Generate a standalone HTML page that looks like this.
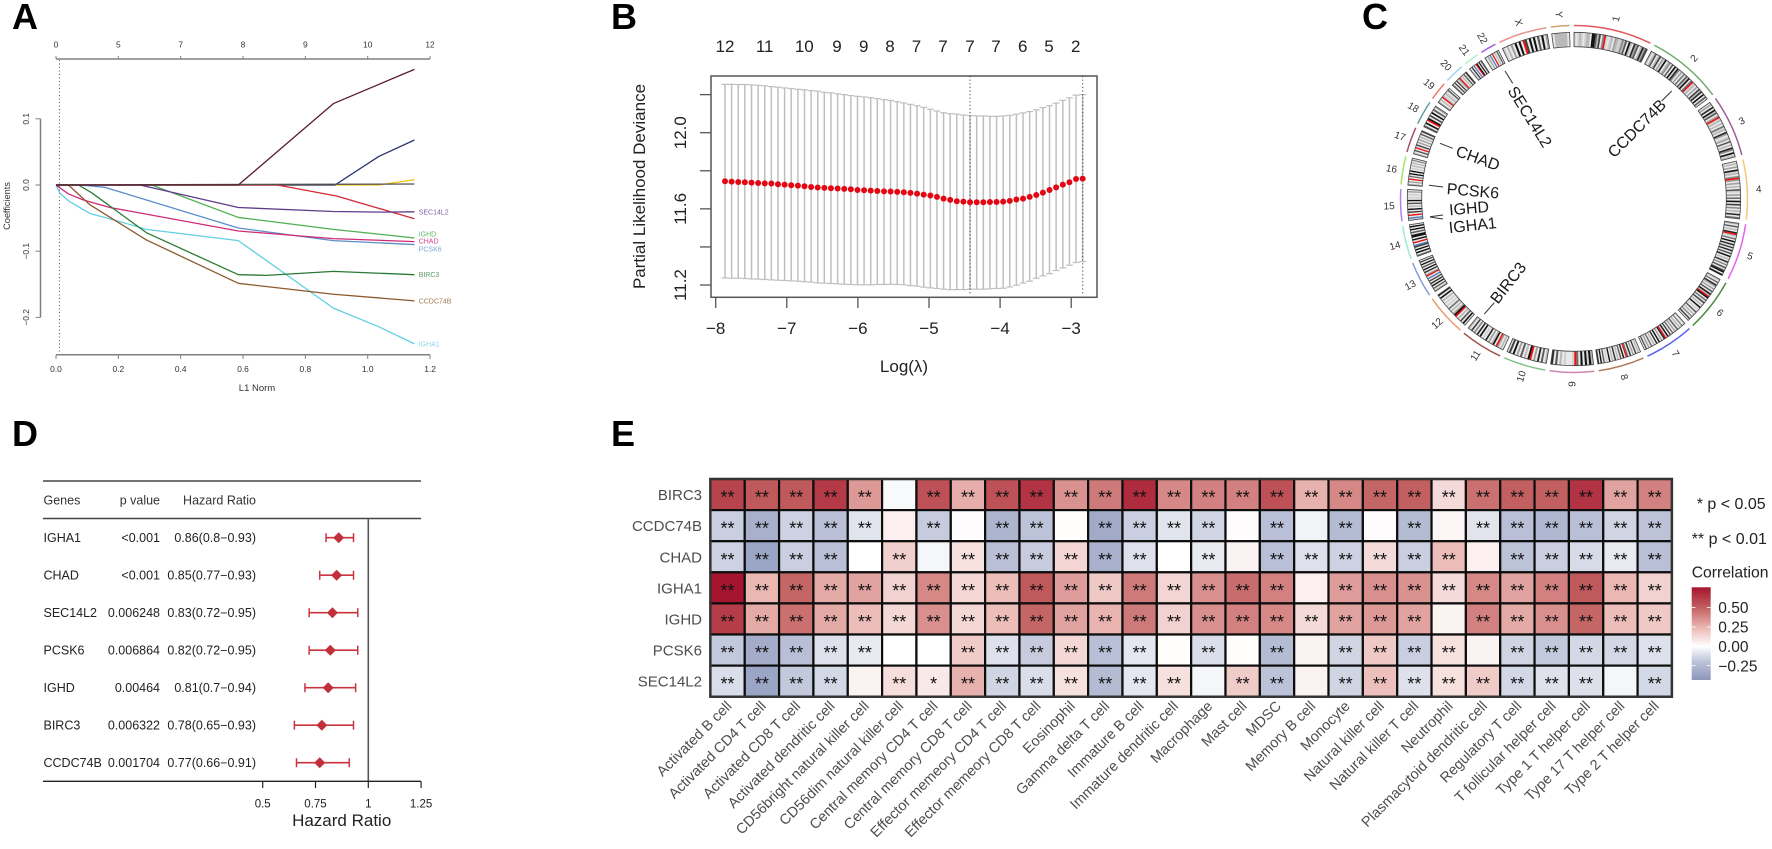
<!DOCTYPE html>
<html lang="en">
<head>
<meta charset="utf-8">
<title>Prognostic gene signature figure</title>
<style>
html,body{margin:0;padding:0;background:#fff;}
svg{display:block;font-family:"Liberation Sans",Arial,sans-serif;}
</style>
</head>
<body>
<svg id="figure" width="1772" height="849" viewBox="0 0 1772 849" xmlns="http://www.w3.org/2000/svg">
<rect x="0" y="0" width="1772" height="849" fill="#ffffff"/>
<g id="panelA"></g>
<g id="panelB"></g>
<g id="panelC"></g>
<g id="panelD"></g>
<g id="panelE"></g>
</svg>
<script>
/* ---------- Panel A data ---------- */
const l1Ticks = [0, 0.2, 0.4, 0.6, 0.8, 1.0, 1.2];
const dfTopTicks = [0, 5, 7, 8, 9, 10, 12];
const coefTicks = [0.1, 0.0, -0.1, -0.2];
const coefGenes = ['SEC14L2', 'IGHD', 'CHAD', 'PCSK6', 'BIRC3', 'CCDC74B', 'IGHA1'];
const maroonL1 = [0, 0.585, 0.89, 1.15];
const maroonCoef = [0, 0, 0.123, 0.1747];
const navyL1 = [0, 0.895, 1.035, 1.15];
const navyCoef = [0, 0, 0.043, 0.068];
const yellowL1 = [0, 1.035, 1.15];
const yellowCoef = [0, 0, 0.008];
const redL1 = [0, 0.71, 0.90, 1.15];
const redCoef = [0, 0, -0.0166, -0.051];
const sec14l2L1 = [0, 0.27, 0.585, 0.89, 1.05, 1.15];
const sec14l2Coef = [0, 0, -0.034, -0.040, -0.041, -0.0405];
const ighdL1 = [0, 0.307, 0.585, 0.89, 1.15];
const ighdCoef = [0, 0, -0.049, -0.067, -0.080];
const pcsk6L1 = [0, 0.077, 0.157, 0.585, 0.89, 1.15];
const pcsk6Coef = [0, 0, -0.0035, -0.065, -0.084, -0.090];
const chadL1 = [0, 0.04, 0.088, 0.173, 0.585, 0.89, 1.15];
const chadCoef = [0, -0.0135, -0.0227, -0.034, -0.0695, -0.081, -0.0855];
const igha1L1 = [0, 0.013, 0.04, 0.109, 0.195, 0.29, 0.585, 0.89, 1.035, 1.15];
const igha1Coef = [0, -0.0126, -0.024, -0.043, -0.054, -0.067, -0.084, -0.186, -0.214, -0.240];
const birc3L1 = [0, 0.072, 0.114, 0.29, 0.585, 0.676, 0.89, 1.15];
const birc3Coef = [0, 0, -0.0116, -0.072, -0.1355, -0.1365, -0.1305, -0.1355];
const ccdc74bL1 = [0, 0.04, 0.109, 0.29, 0.585, 0.89, 1.15];
const ccdc74bCoef = [0, 0, -0.030, -0.083, -0.1485, -0.165, -0.175];
const baselineL1 = [0, 1.15];
const baselineCoef = [0, 0.0015];
const lassoLambdaMarker = 0.011;

/* ---------- Panel B data ---------- */
const logLambda = [-7.869,-7.776,-7.683,-7.590,-7.496,-7.403,-7.310,-7.217,-7.124,-7.031,
-6.938,-6.844,-6.751,-6.658,-6.565,-6.472,-6.379,-6.285,-6.192,-6.099,
-6.006,-5.913,-5.820,-5.727,-5.633,-5.540,-5.447,-5.354,-5.261,-5.168,
-5.075,-4.981,-4.888,-4.795,-4.702,-4.609,-4.516,-4.423,-4.329,-4.236,
-4.143,-4.050,-3.957,-3.864,-3.771,-3.677,-3.584,-3.491,-3.398,-3.305,
-3.212,-3.118,-3.025,-2.932,-2.839];
const cvMean = [11.745,11.743,11.741,11.740,11.738,11.736,11.734,11.733,11.729,11.727,
11.724,11.722,11.719,11.715,11.712,11.710,11.708,11.707,11.705,11.703,
11.699,11.698,11.696,11.694,11.692,11.691,11.689,11.687,11.684,11.680,
11.675,11.670,11.663,11.654,11.647,11.640,11.638,11.635,11.635,11.635,
11.636,11.636,11.638,11.642,11.649,11.654,11.663,11.673,11.685,11.699,
11.713,11.727,11.740,11.757,11.759];
const cvUpper = [12.254,12.254,12.253,12.253,12.251,12.249,12.246,12.242,12.239,12.235,
12.232,12.228,12.225,12.221,12.218,12.212,12.209,12.204,12.200,12.195,
12.191,12.188,12.184,12.179,12.174,12.169,12.163,12.156,12.149,12.142,
12.133,12.123,12.114,12.105,12.100,12.097,12.093,12.090,12.088,12.088,
12.086,12.086,12.088,12.091,12.097,12.104,12.111,12.120,12.132,12.142,
12.155,12.170,12.183,12.197,12.200];
const cvLower = [11.237,11.236,11.236,11.234,11.232,11.231,11.229,11.227,11.225,11.224,
11.222,11.220,11.217,11.215,11.211,11.210,11.208,11.206,11.204,11.203,
11.201,11.201,11.201,11.203,11.203,11.204,11.203,11.201,11.197,11.194,
11.189,11.185,11.182,11.178,11.176,11.176,11.176,11.178,11.178,11.178,
11.180,11.182,11.183,11.190,11.199,11.210,11.220,11.236,11.248,11.260,
11.276,11.290,11.304,11.318,11.323];
const cvXTicks = [-8, -7, -6, -5, -4, -3];
const cvYTicks = [11.2, 11.4, 11.6, 11.8, 12.0, 12.2];
const cvYLabels = ['11.2', '11.6', '12.0'];
const cvTopLambda = [-7.869,-7.311,-6.754,-6.294,-5.918,-5.548,-5.176,-4.803,-4.423,-4.058,-3.682,-3.312,-2.937];
const cvTopCounts = ['12','11','10','9','9','8','7','7','7','7','6','5','2'];
const cvMarkers = [-4.423, -2.838];

/* ---------- Panel C data ---------- */
const chromNames = ['1','2','3','4','5','6','7','8','9','10','11','12','13','14','15','16','17','18','19','20','21','22','X','Y'];
const chromLengths = [249,243,198,191,181,171,159,146,141,135,135,133,115,107,102,90,81,78,59,63,48,51,155,59];
const chromColors = ['#e2585e','#6fa86f','#9c5f9c','#f4c876','#e860f0','#4f8a3f','#6060f0','#b07a5a','#cc88aa','#80c488','#a05050','#ee9a70','#7f9fd5','#9ee8d8','#b080f0','#a0e860','#a85060','#5f9f9f','#ee7a6a','#a0d4f0','#b0f0c8','#a060e0','#e8958a','#d0a070'];
const chromBands = [
'10121012209962704r101203211426092083602837',
'2026027031902406091840305062905r1203072809060',
'0308092603r1202051208301306020840912',
'0203091204r303020610305090704020805',
'3060208r2050908070806090208040607909',
'2050830306092r90507020901060204070',
'1040206030507091r8030908020503060',
'0207030805r09060208020901060908',
'29190905r10001020608',
'20608030r902060309071',
'0203r0920308010908040702',
'0906020r9302050101020908',
'3060908070b0r308090609070',
'5090907b0r090990609090',
'1b0r07090206090101030',
'3030r050909010202040',
'2060r070303020607',
'6090r907090603',
'3020r2021060',
'5070703r020608',
'2080b0r90906',
'1030b0r02060',
'1020309090r70909060903',
'0222220'];
const geneMarkNames = ['SEC14L2','CCDC74B','CHAD','PCSK6','IGHD','IGHA1','BIRC3'];

/* ---------- Panel D data ---------- */
const forestGenes = ['IGHA1','CHAD','SEC14L2','PCSK6','IGHD','BIRC3','CCDC74B'];
const forestPValues = ['<0.001','<0.001','0.006248','0.006864','0.00464','0.006322','0.001704'];
const forestHrText = ['0.86(0.8\u22120.93)','0.85(0.77\u22120.93)','0.83(0.72\u22120.95)','0.82(0.72\u22120.95)','0.81(0.7\u22120.94)','0.78(0.65\u22120.93)','0.77(0.66\u22120.91)'];
const forestHr = [0.86,0.85,0.83,0.82,0.81,0.78,0.77];
const forestLow = [0.80,0.77,0.72,0.72,0.70,0.65,0.66];
const forestHigh = [0.93,0.93,0.95,0.95,0.94,0.93,0.91];
const forestTicks = [0.5,0.75,1,1.25];
const forestTickLabels = ['0.5','0.75','1','1.25'];

/* ---------- Panel E data ---------- */
const heatGenes = ['BIRC3','CCDC74B','CHAD','IGHA1','IGHD','PCSK6','SEC14L2'];
const heatCells = ['Activated B cell','Activated CD4 T cell','Activated CD8 T cell','Activated dendritic cell','CD56bright natural killer cell','CD56dim natural killer cell','Central memory CD4 T cell','Central memory CD8 T cell','Effector memeory CD4 T cell','Effector memeory CD8 T cell','Eosinophil','Gamma delta T cell','Immature  B cell','Immature dendritic cell','Macrophage','Mast cell','MDSC','Memory B cell','Monocyte','Natural killer cell','Natural killer T cell','Neutrophil','Plasmacytoid dendritic cell','Regulatory T cell','T follicular helper cell','Type 1 T helper cell','Type 17 T helper cell','Type 2 T helper cell'];
const corrBIRC3 = [.60,.52,.52,.63,.33,-.02,.55,.27,.55,.65,.35,.42,.68,.38,.40,.40,.55,.26,.38,.48,.50,.12,.45,.50,.50,.65,.30,.40];
const corrCCDC74B = [-.16,-.30,-.15,-.22,-.09,.05,-.17,.01,-.28,-.20,.005,-.33,-.16,-.09,-.14,.01,-.22,-.04,-.24,.01,-.24,.03,-.09,-.22,-.26,-.22,-.14,-.20];
const corrCHAD = [-.15,-.36,-.16,-.22,0,.16,-.03,.10,-.22,-.17,.14,-.30,-.10,0,-.07,.04,-.22,-.10,-.15,.12,-.16,.22,.05,-.20,-.16,-.12,-.07,-.22];
const corrIGHA1 = [.76,.24,.48,.28,.30,.15,.38,.13,.22,.52,.32,.18,.42,.14,.36,.46,.40,.05,.32,.36,.35,.12,.38,.30,.40,.52,.24,.15];
const corrIGHD = [.62,.28,.45,.28,.22,.13,.36,.13,.22,.48,.30,.25,.42,.15,.36,.40,.38,.12,.30,.33,.30,.04,.40,.28,.36,.48,.22,.18];
const corrPCSK6 = [-.18,-.32,-.22,-.10,-.07,0,0,.17,-.10,-.17,.13,-.22,-.08,.005,-.11,.005,-.24,.04,-.14,.18,-.16,.10,.04,-.14,-.18,-.13,-.13,-.10];
const corrSEC14L2 = [-.11,-.36,-.18,-.13,.04,.11,.07,.26,-.14,-.11,.10,-.24,-.08,.10,-.03,.17,-.20,.04,-.14,.21,-.10,.10,.17,-.13,-.10,-.10,-.03,-.13];
const sigBIRC3 = '2222202222222222222222222222';
const sigCCDC74B = '2222202022022220202020222222';
const sigCHAD = '2222020222222020222222022222';
const sigIGHA1 = '2222222222222222202222222222';
const sigIGHD = '2222222222222222222220222222';
const sigPCSK6 = '2222200222222020202222022222';
const sigSEC14L2 = '2222021222222202202222222202';
const legendTicks = [0.5,0.25,0,-0.25];
const legendLabels = ['0.50','0.25','0.00','\u22120.25'];

/* ---------- helpers ---------- */
const NS = 'http://www.w3.org/2000/svg';
function mk(parent, tag, attrs) {
  const el = document.createElementNS(NS, tag);
  for (const k in attrs) el.setAttribute(k, attrs[k]);
  parent.appendChild(el);
  return el;
}
function txt(parent, x, y, str, size, opts) {
  const o = opts || {};
  const el = mk(parent, 'text', {x: x, y: y, 'font-size': size, 'text-anchor': o.anchor || 'start', fill: o.fill || '#222222', 'font-weight': o.weight || 'normal'});
  if (o.rot !== undefined) el.setAttribute('transform', 'rotate(' + o.rot + ' ' + (o.cx === undefined ? x : o.cx) + ' ' + (o.cy === undefined ? y : o.cy) + ')');
  if (o.preserve) el.setAttribute('xml:space', 'preserve');
  el.textContent = str;
  return el;
}
function seg(parent, x1, y1, x2, y2, stroke, width, dash) {
  const attrs = {x1: x1, y1: y1, x2: x2, y2: y2, stroke: stroke, 'stroke-width': width};
  if (dash) attrs['stroke-dasharray'] = dash;
  return mk(parent, 'line', attrs);
}
function panelLetter(parent, x, y, letter, name) {
  const el = txt(parent, x, y, letter, 36, {weight: 'bold', fill: '#000000'});
  
  
}

/* ---------- Panel A ---------- */
(function () {
  const g = document.getElementById('panelA');
  panelLetter(g, 12, 29, 'A', 'panel-a-label');
  const xA = v => 56 + v * 311.7;
  const yA = v => 185 - v * 662;
  const axisColor = '#808080';
  const topAxis = mk(g, 'g', {});
  
  
  seg(topAxis, xA(l1Ticks[0]), 59, xA(l1Ticks[l1Ticks.length - 1]), 59, axisColor, 1.5);
  dfTopTicks.forEach((d, i) => {
    seg(topAxis, xA(l1Ticks[i]), 59, xA(l1Ticks[i]), 56, axisColor, 1);
    txt(topAxis, xA(l1Ticks[i]), 47.5, String(d), 8.4, {anchor: 'middle', fill: '#333333'});
  });
  const botAxis = mk(g, 'g', {});
  
  
  seg(botAxis, xA(l1Ticks[0]), 354.7, xA(l1Ticks[l1Ticks.length - 1]), 354.7, axisColor, 1.5);
  l1Ticks.forEach(t => {
    seg(botAxis, xA(t), 354.7, xA(t), 359, axisColor, 1);
    txt(botAxis, xA(t), 372, t.toFixed(1), 8.4, {anchor: 'middle', fill: '#333333'});
  });
  const xTitle = txt(g, 257, 391, 'L1 Norm', 9.5, {anchor: 'middle', fill: '#333333'});
  
  
  const yAxis = mk(g, 'g', {});
  
  
  seg(yAxis, 40.5, yA(coefTicks[0]), 40.5, yA(coefTicks[coefTicks.length - 1]), axisColor, 1.5);
  coefTicks.forEach(t => {
    const yy = yA(t);
    seg(yAxis, 40.5, yy, 35.5, yy, axisColor, 1);
    txt(yAxis, 29, yy, t.toFixed(1).replace('-', '\u2212'), 8.4, {anchor: 'middle', fill: '#333333', rot: -90});
  });
  const yTitle = txt(g, 10, 206, 'Coefficients', 9.2, {anchor: 'middle', fill: '#333333', rot: -90});
  
  
  const marker = seg(g, xA(lassoLambdaMarker), 60, xA(lassoLambdaMarker), 353, '#555555', 1, '1 2.5');
  
  

  function lassoLine(xs, ys, color, name) {
    const p = mk(g, 'polyline', {points: xs.map((v, i) => xA(v).toFixed(2) + ',' + yA(ys[i]).toFixed(2)).join(' '), fill: 'none', stroke: color, 'stroke-width': 1.3, 'stroke-linejoin': 'round'});
    
    
  }
  lassoLine(igha1L1, igha1Coef, '#62cfe2', 'coef-line-igha1');
  lassoLine(yellowL1, yellowCoef, '#f5c518', 'coef-line-yellow');
  lassoLine(navyL1, navyCoef, '#26336e', 'coef-line-navy');
  lassoLine(redL1, redCoef, '#d42a35', 'coef-line-red');
  lassoLine(ighdL1, ighdCoef, '#4caf50', 'coef-line-ighd');
  lassoLine(pcsk6L1, pcsk6Coef, '#5b8ec8', 'coef-line-pcsk6');
  lassoLine(chadL1, chadCoef, '#cf2a78', 'coef-line-chad');
  lassoLine(birc3L1, birc3Coef, '#2a7a35', 'coef-line-birc3');
  lassoLine(ccdc74bL1, ccdc74bCoef, '#8c5a2b', 'coef-line-ccdc74b');
  lassoLine(sec14l2L1, sec14l2Coef, '#5f3d8c', 'coef-line-sec14l2');
  lassoLine(baselineL1, baselineCoef, '#555050', 'coef-line-baseline');
  lassoLine(maroonL1, maroonCoef, '#5a1a2e', 'coef-line-maroon');

  const labelColors = ['#7d64a8', '#5dbb62', '#d8458c', '#7ba6d6', '#5a9a63', '#a57c50', '#86d8e8'];
  const labelCoefs = [-0.0405, -0.0735, -0.0845, -0.0965, -0.135, -0.175, -0.24];
  coefGenes.forEach((name, i) => {
    const t = txt(g, 418.7, yA(labelCoefs[i]) + 2.6, name, 7, {fill: labelColors[i]});
    
    
  });
})();

/* ---------- Panel B ---------- */
(function () {
  const g = document.getElementById('panelB');
  panelLetter(g, 611, 29, 'B', 'panel-b-label');
  const xB = v => 715.7 + (v + 8) * 71.1;
  const yB = v => 132.7 + (12 - v) * 190.4;
  const box = mk(g, 'rect', {x: 711, y: 76, width: 386, height: 221.3, fill: 'none', stroke: '#555555', 'stroke-width': 1.5});
  
  
  const bars = mk(g, 'g', {fill: 'none'});
  
  
  logLambda.forEach((l, i) => {
    const x = xB(l);
    seg(bars, x, yB(cvUpper[i]), x, yB(cvLower[i]), '#bfbfbf', 1.5);
    seg(bars, x - 3.4, yB(cvUpper[i]), x + 3.4, yB(cvUpper[i]), '#bfbfbf', 1.2);
    seg(bars, x - 3.4, yB(cvLower[i]), x + 3.4, yB(cvLower[i]), '#bfbfbf', 1.2);
  });
  cvMarkers.forEach(m => {
    const d = seg(g, xB(m), 76, xB(m), 294, '#444444', 1, '1.2 2.4');
    
    
  });
  const pts = mk(g, 'g', {});
  
  
  logLambda.forEach((l, i) => {
    mk(pts, 'circle', {cx: xB(l), cy: yB(cvMean[i]), r: 3, fill: '#e30613'});
  });
  const xAxis = mk(g, 'g', {});
  
  
  cvXTicks.forEach(t => {
    seg(xAxis, xB(t), 297.3, xB(t), 308, '#555555', 1.3);
    txt(xAxis, xB(t), 334, '\u2212' + Math.abs(t), 17, {anchor: 'middle', fill: '#222222'});
  });
  const yAxis = mk(g, 'g', {});
  
  
  cvYTicks.forEach(t => {
    seg(yAxis, 711, yB(t), 700, yB(t), '#555555', 1.3);
  });
  cvYLabels.forEach(s => {
    txt(yAxis, 686, yB(parseFloat(s)), s, 17, {anchor: 'middle', fill: '#222222', rot: -90});
  });
  const topN = mk(g, 'g', {});
  
  
  cvTopLambda.forEach((l, i) => {
    txt(topN, xB(l), 52, cvTopCounts[i], 17, {anchor: 'middle', fill: '#222222'});
  });
  const yTitle = txt(g, 645, 186.5, 'Partial Likelihood Deviance', 17, {anchor: 'middle', fill: '#222222', rot: -90});
  
  
  const xTitle = txt(g, 904, 372, 'Log(\u03BB)', 17, {anchor: 'middle', fill: '#222222'});
  
  
})();

/* ---------- Panel C ---------- */
(function () {
  const g = document.getElementById('panelC');
  panelLetter(g, 1362, 29, 'C', 'panel-c-label');
  const cx = 1574, cy = 199, rOut = 173.5, rA = 166.7, rB = 152.3, rLab = 185;
  const gap = 1.5;
  const total = chromLengths.reduce((a, b) => a + b, 0);
  const unit = (360 - gap * chromLengths.length) / total;
  const pt = (r, deg) => {
    const a = deg * Math.PI / 180;
    return [cx + r * Math.sin(a), cy - r * Math.cos(a)];
  };
  function wedge(a0, a1, r0, r1) {
    const p0 = pt(r1, a0), p1 = pt(r1, a1), p2 = pt(r0, a1), p3 = pt(r0, a0);
    const large = (a1 - a0) > 180 ? 1 : 0;
    return 'M' + p0[0].toFixed(2) + ' ' + p0[1].toFixed(2) + 'A' + r1 + ' ' + r1 + ' 0 ' + large + ' 1 ' + p1[0].toFixed(2) + ' ' + p1[1].toFixed(2) +
      'L' + p2[0].toFixed(2) + ' ' + p2[1].toFixed(2) + 'A' + r0 + ' ' + r0 + ' 0 ' + large + ' 0 ' + p3[0].toFixed(2) + ' ' + p3[1].toFixed(2) + 'Z';
  }
  let start = 0;
  chromNames.forEach((name, i) => {
    const sweep = chromLengths[i] * unit;
    const end = start + sweep;
    const grp = mk(g, 'g', {});
    
    
    const p0 = pt(rOut, start), p1 = pt(rOut, end);
    mk(grp, 'path', {d: 'M' + p0[0] + ' ' + p0[1] + 'A' + rOut + ' ' + rOut + ' 0 0 1 ' + p1[0] + ' ' + p1[1], fill: 'none', stroke: chromColors[i], 'stroke-width': 1.5});
    const bands = chromBands[i];
    const bandW = sweep / bands.length;
    for (let b = 0; b < bands.length; b++) {
      const c = bands[b];
      let fill;
      if (c === 'r') fill = '#ee1111';
      else if (c === 'b') fill = '#4a7fc0';
      else {
        const lvl = 232 - parseInt(c, 10) * 24;
        fill = 'rgb(' + lvl + ',' + lvl + ',' + lvl + ')';
      }
      mk(grp, 'path', {d: wedge(start + b * bandW, start + (b + 1) * bandW + 0.05, rB, rA), fill: fill});
    }
    mk(grp, 'path', {d: wedge(start, end, rB, rA), fill: 'none', stroke: '#444444', 'stroke-width': 0.8});
    const mid = (start + end) / 2;
    const lp = pt(rLab, mid);
    const rot = mid <= 180 ? mid - 90 : mid - 270;
    const lab = txt(grp, lp[0], lp[1] + 3.6, name, 10, {anchor: 'middle', fill: '#333333', rot: rot, cx: lp[0], cy: lp[1]});
    
    
    start = end + gap;
  });
  /* gene marks: label centre and leader line */
  const labX = [1530, 1636.7, 1478, 1473, 1469, 1472.7, 1508];
  const labY = [116.7, 128.3, 158, 190.7, 208, 225, 282.7];
  const labR = [58, -45, 20, 5, -5, -6, -52];
  const t1x = [1505, 1671.7, 1440, 1429, 1430, 1430, 1484.3];
  const t1y = [71, 91, 143.3, 185.3, 216.7, 217, 314];
  const t2x = [1512.7, 1661.7, 1452.7, 1443, 1443, 1443, 1494.3];
  const t2y = [83.3, 101, 148.3, 187, 215, 219, 302.7];
  geneMarkNames.forEach((name, i) => {
    const m = mk(g, 'g', {});
    
    
    seg(m, t1x[i], t1y[i], t2x[i], t2y[i], '#333333', 1);
    txt(m, labX[i], labY[i] + 5.6, name, 16, {anchor: 'middle', fill: '#1a1a1a', rot: labR[i], cx: labX[i], cy: labY[i]});
  });
})();

/* ---------- Panel D ---------- */
(function () {
  const g = document.getElementById('panelD');
  panelLetter(g, 12, 446, 'D', 'panel-d-label');
  const xD = v => 262.7 + (v - 0.5) * 211.2;
  const top = seg(g, 43, 481, 421, 481, '#222222', 1.3);
  
  
  const head = seg(g, 43, 518.5, 421, 518.5, '#444444', 1.6);
  
  
  const refLine = seg(g, xD(1), 518.5, xD(1), 781.3, '#555555', 1.6);
  
  
  const axis = mk(g, 'g', {});
  
  
  seg(axis, 43, 781.3, 421, 781.3, '#222222', 1.3);
  forestTicks.forEach((t, i) => {
    seg(axis, xD(t), 781.3, xD(t), 788, '#222222', 1.2);
    txt(axis, xD(t), 807.5, forestTickLabels[i], 11.5, {anchor: 'middle', fill: '#222222'});
  });
  const title = txt(g, 341.7, 826, 'Hazard Ratio', 17, {anchor: 'middle', fill: '#222222'});
  
  
  const headers = mk(g, 'g', {});
  
  
  txt(headers, 43.5, 504.5, 'Genes', 12.5, {fill: '#333333'});
  txt(headers, 160, 504.5, 'p value', 12.5, {anchor: 'end', fill: '#333333'});
  txt(headers, 256, 504.5, 'Hazard Ratio', 12.5, {anchor: 'end', fill: '#333333'});
  forestGenes.forEach((name, i) => {
    const y = 537.7 + i * 37.5;
    const row = mk(g, 'g', {});
    
    
    txt(row, 43.5, y + 4.5, name, 12.5);
    txt(row, 160, y + 4.5, forestPValues[i], 12.5, {anchor: 'end'});
    txt(row, 256, y + 4.5, forestHrText[i], 12.5, {anchor: 'end'});
    const c = '#c9353f';
    seg(row, xD(forestLow[i]), y, xD(forestHigh[i]), y, c, 1.6);
    seg(row, xD(forestLow[i]), y - 4.5, xD(forestLow[i]), y + 4.5, c, 1.5);
    seg(row, xD(forestHigh[i]), y - 4.5, xD(forestHigh[i]), y + 4.5, c, 1.5);
    const hx = xD(forestHr[i]);
    mk(row, 'polygon', {points: (hx - 5.5) + ',' + y + ' ' + hx + ',' + (y - 5.5) + ' ' + (hx + 5.5) + ',' + y + ' ' + hx + ',' + (y + 5.5), fill: '#c1303a'});
  });
})();

/* ---------- Panel E ---------- */
(function () {
  const g = document.getElementById('panelE');
  panelLetter(g, 611, 446, 'E', 'panel-e-label');
  const corrRows = [corrBIRC3, corrCCDC74B, corrCHAD, corrIGHA1, corrIGHD, corrPCSK6, corrSEC14L2];
  const sigRows = [sigBIRC3, sigCCDC74B, sigCHAD, sigIGHA1, sigIGHD, sigPCSK6, sigSEC14L2];
  const left = 710.4, top = 479, cw = 34.34, ch = 31.1;
  const scaleStops = [-0.43, -0.2, 0, 0.25, 0.5, 0.76];
  const scaleR = [141, 188, 255, 233, 194, 166];
  const scaleG = [152, 195, 255, 180, 95, 21];
  const scaleB = [188, 216, 255, 176, 96, 47];
  function fillFor(v) {
    const t = Math.max(scaleStops[0], Math.min(scaleStops[5], v));
    let s = 0;
    while (s < 4 && t > scaleStops[s + 1]) s++;
    const f = (t - scaleStops[s]) / (scaleStops[s + 1] - scaleStops[s]);
    const m = a => Math.round(a[s] + (a[s + 1] - a[s]) * f);
    return 'rgb(' + m(scaleR) + ',' + m(scaleG) + ',' + m(scaleB) + ')';
  }
  const grid = mk(g, 'g', {});
  
  
  corrRows.forEach((row, r) => {
    row.forEach((v, c) => {
      const x = left + c * cw, y = top + r * ch;
      const cell = mk(grid, 'rect', {x: x, y: y, width: cw, height: ch, fill: fillFor(v), stroke: '#0d0d0d', 'stroke-width': 2.2});
      
      
      const lvl = parseInt(sigRows[r][c], 10);
      if (lvl > 0) {
        const s = txt(grid, x + cw / 2, y + ch / 2 + 9, lvl === 2 ? '**' : '*', 18, {anchor: 'middle', fill: '#111111'});
        
        
      }
    });
  });
  mk(grid, 'rect', {x: left, y: top, width: cw * 28, height: ch * 7, fill: 'none', stroke: '#333333', 'stroke-width': 2.4});
  heatGenes.forEach((name, r) => {
    const t = txt(g, 702, top + r * ch + ch / 2 + 5.5, name, 15, {anchor: 'end', fill: '#4d4d4d'});
    
    
  });
  heatCells.forEach((name, c) => {
    const x = left + c * cw + cw / 2 + 5, y = 707;
    const t = txt(g, x, y, name, 14.5, {anchor: 'end', fill: '#4d4d4d', rot: -45, preserve: true});
    
    
  });
  const note1 = txt(g, 1696.7, 509, '* p < 0.05', 16, {fill: '#222222'});
  
  
  const note2 = txt(g, 1691.7, 544, '** p < 0.01', 16, {fill: '#222222'});
  
  
  const legTitle = txt(g, 1691.7, 577.5, 'Correlation', 15.7, {fill: '#222222'});
  
  
  const yL = v => 646.3 - v * 77.4;
  const defs = mk(g, 'defs', {});
  const grad = mk(defs, 'linearGradient', {id: 'corrGradient', x1: 0, y1: 0, x2: 0, y2: 1});
  for (let i = scaleStops.length - 1; i >= 0; i--) {
    const off = (yL(scaleStops[i]) - 587.3) / (680 - 587.3);
    mk(grad, 'stop', {offset: Math.max(0, Math.min(1, off)), 'stop-color': 'rgb(' + scaleR[i] + ',' + scaleG[i] + ',' + scaleB[i] + ')'});
  }
  const bar = mk(g, 'rect', {x: 1691.7, y: 587.3, width: 19, height: 92.7, fill: 'url(#corrGradient)'});
  
  
  legendTicks.forEach((t, i) => {
    const y = yL(t);
    seg(g, 1691.7, y, 1695.5, y, '#ffffff', 0.8);
    seg(g, 1706.9, y, 1710.7, y, '#ffffff', 0.8);
    const l = txt(g, 1718.3, y + 5.6, legendLabels[i], 15.5, {fill: '#222222'});
    
    
  });
})();
</script>
</body>
</html>
